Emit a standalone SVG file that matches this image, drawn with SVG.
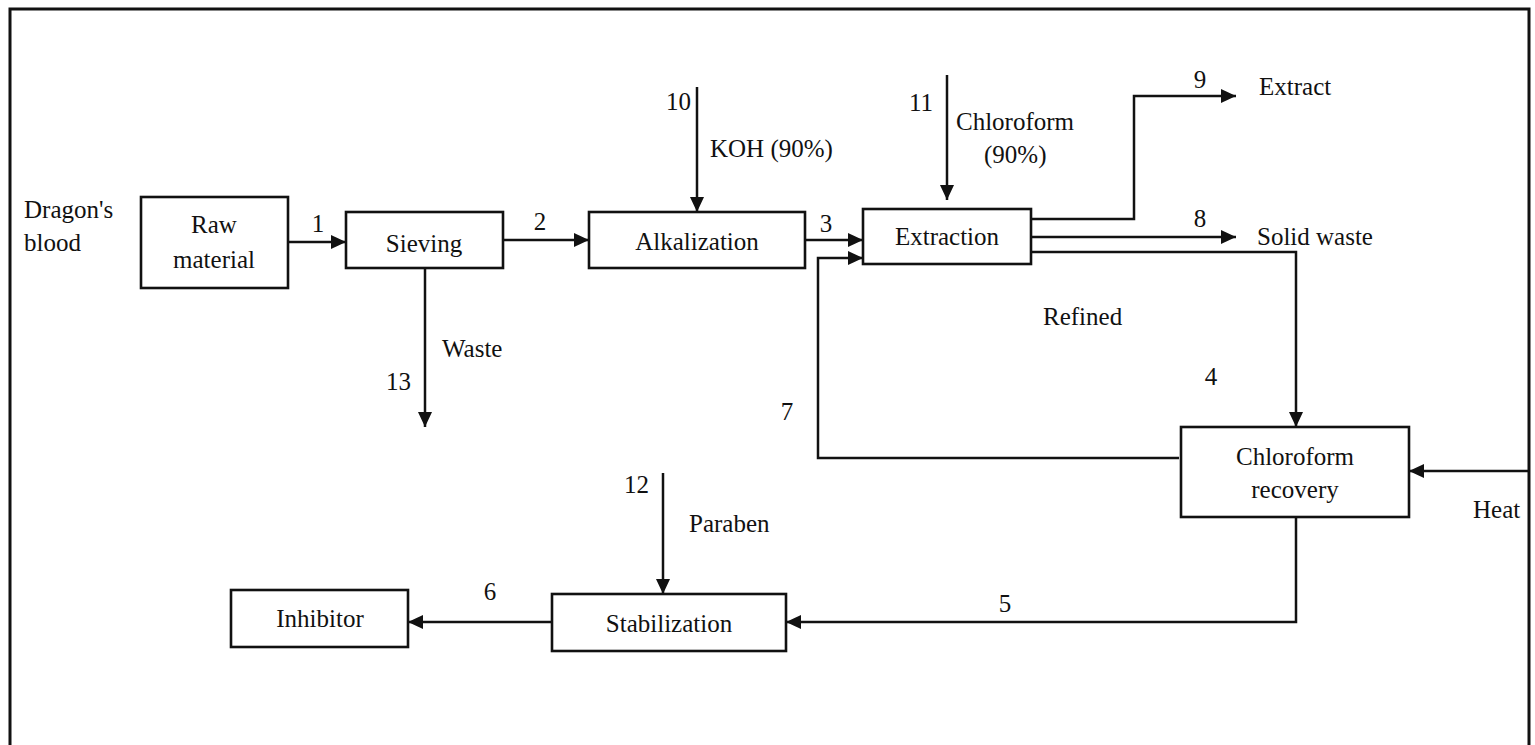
<svg xmlns="http://www.w3.org/2000/svg" width="1535" height="745" viewBox="0 0 1535 745">
  <style>
    text { font-size: 25px; fill: #111; }
    .c { text-anchor: middle; }
    .box { fill: #fff; stroke: #111; stroke-width: 2.6; }
    .ln { fill: none; stroke: #111; stroke-width: 2.5; }
    .frame { fill: none; stroke: #111; stroke-width: 3; }
  </style>
  <defs>
    <marker id="arr" markerUnits="userSpaceOnUse" markerWidth="16" markerHeight="14" refX="15" refY="7" orient="auto">
      <path d="M0,0 L15,7 L0,14 Z" fill="#111"/>
    </marker>
  </defs>

  <rect width="1535" height="745" fill="#fff"/>
  <path class="frame" d="M10,745 V9 H1529 V745"/>

  <g font-family="Liberation Serif, Tinos, Times New Roman, DejaVu Serif, serif">
  <!-- process connectors -->
  <g id="connectors">
    <line class="ln" x1="288" y1="242" x2="346" y2="242" marker-end="url(#arr)"/>
    <line class="ln" x1="503" y1="240" x2="589" y2="240" marker-end="url(#arr)"/>
    <line class="ln" x1="805" y1="240" x2="863" y2="240" marker-end="url(#arr)"/>
    <line class="ln" x1="697" y1="87" x2="697" y2="212" marker-end="url(#arr)"/>
    <line class="ln" x1="947" y1="75" x2="947" y2="200" marker-end="url(#arr)"/>
    <polyline class="ln" points="1031,219 1134,219 1134,96 1236,96" marker-end="url(#arr)"/>
    <line class="ln" x1="1031" y1="237" x2="1236" y2="237" marker-end="url(#arr)"/>
    <polyline class="ln" points="1031,252 1296,252 1296,427" marker-end="url(#arr)"/>
    <polyline class="ln" points="1179,458 818,458 818,258 863,258" marker-end="url(#arr)"/>
    <line class="ln" x1="1529" y1="471" x2="1409" y2="471" marker-end="url(#arr)"/>
    <polyline class="ln" points="1296,517 1296,622 786,622" marker-end="url(#arr)"/>
    <line class="ln" x1="663" y1="473" x2="663" y2="594" marker-end="url(#arr)"/>
    <line class="ln" x1="552" y1="622" x2="408" y2="622" marker-end="url(#arr)"/>
    <line class="ln" x1="425" y1="268" x2="425" y2="427" marker-end="url(#arr)"/>
  </g>

  <!-- stream labels -->
  <g id="labels">
    <text x="24" y="218">Dragon's</text>
    <text x="24" y="251">blood</text>
    <text class="c" x="318" y="232">1</text>
    <text class="c" x="540" y="230">2</text>
    <text class="c" x="826" y="232">3</text>
    <text x="691" y="110" text-anchor="end">10</text>
    <text x="710" y="157">KOH (90%)</text>
    <text x="933" y="111" text-anchor="end">11</text>
    <text x="956" y="130">Chloroform</text>
    <text x="984" y="163">(90%)</text>
    <text class="c" x="1200" y="88">9</text>
    <text x="1259" y="95">Extract</text>
    <text class="c" x="1200" y="227">8</text>
    <text x="1257" y="245">Solid waste</text>
    <text x="1043" y="325">Refined</text>
    <text class="c" x="1211" y="385">4</text>
    <text class="c" x="787" y="420">7</text>
    <text x="1473" y="518">Heat</text>
    <text class="c" x="1005" y="612">5</text>
    <text x="649" y="493" text-anchor="end">12</text>
    <text x="689" y="532">Paraben</text>
    <text class="c" x="490" y="600">6</text>
    <text x="442" y="357">Waste</text>
    <text x="411" y="390" text-anchor="end">13</text>
  </g>

  <g id="raw-material">
    <rect class="box" x="141" y="197" width="147" height="91"/>
    <text class="c" x="214" y="233">Raw</text>
    <text class="c" x="214" y="268">material</text>
  </g>
  <g id="sieving">
    <rect class="box" x="346" y="212" width="157" height="56"/>
    <text class="c" x="424" y="252">Sieving</text>
  </g>
  <g id="alkalization">
    <rect class="box" x="589" y="212" width="216" height="56"/>
    <text class="c" x="697" y="250">Alkalization</text>
  </g>
  <g id="extraction">
    <rect class="box" x="863" y="209" width="168" height="55"/>
    <text class="c" x="947" y="245">Extraction</text>
  </g>
  <g id="chloroform-recovery">
    <rect class="box" x="1181" y="427" width="228" height="90"/>
    <text class="c" x="1295" y="465">Chloroform</text>
    <text class="c" x="1295" y="498">recovery</text>
  </g>
  <g id="stabilization">
    <rect class="box" x="552" y="594" width="234" height="57"/>
    <text class="c" x="669" y="632">Stabilization</text>
  </g>
  <g id="inhibitor">
    <rect class="box" x="231" y="590" width="177" height="57"/>
    <text class="c" x="320" y="627">Inhibitor</text>
  </g>
  </g>
</svg>
